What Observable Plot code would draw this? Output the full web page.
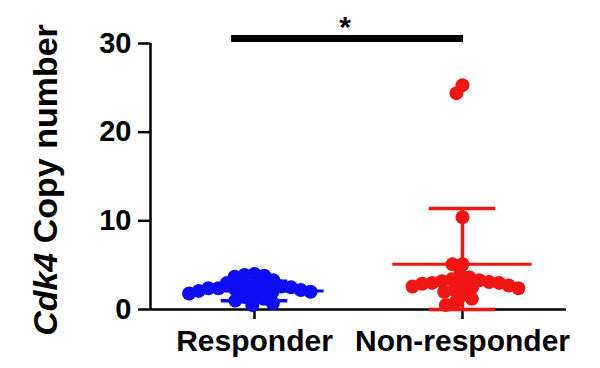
<!DOCTYPE html>
<html><head><meta charset="utf-8">
<script src="https://cdn.jsdelivr.net/npm/d3@7"></script>
<script src="https://cdn.jsdelivr.net/npm/@observablehq/plot@0.6"></script>
<style>body{margin:0;background:#fff}</style>
</head><body><div id="chart"></div>
<script>
const groups = ["Responder", "Non-responder"];
const responder = [4.0, 3.9, 3.8, 3.7, 3.3, 3.0, 2.8, 2.7, 2.6, 2.6, 2.5, 2.4, 2.4, 2.3, 2.2, 2.1, 2.0, 1.9, 1.8, 1.6, 1.4, 1.2, 1.0, 0.7, 0.5];
const nonResponder = [25.3, 24.4, 10.4, 5.1, 5.1, 4.0, 3.6, 3.4, 3.3, 3.2, 3.1, 3.0, 3.0, 2.9, 2.8, 2.7, 2.6, 2.5, 2.4, 2.2, 2.0, 1.6, 1.2, 0.8, 0.5];
const means = [2.1, 5.1];
const sds = [1.1, 6.3];
const colors = ["#0c0cf0", "#f01616"];
const yTicks = [0, 10, 20, 30];
const sigLabel = "*";
const sigY = 30.55;

const points = [
  ...responder.map(v => ({group: groups[0], value: v})),
  ...nonResponder.map(v => ({group: groups[1], value: v}))
];
const stats = groups.map((g, i) => ({group: g, mean: means[i], lo: Math.max(0, means[i] - sds[i]), hi: means[i] + sds[i]}));
const sigBar = [
  {group: groups[0], x1: -0.22, x2: 1},
  {group: groups[1], x1: -1, x2: 0.01}
];

const plot = Plot.plot({
  width: 600, height: 368,
  marginLeft: 150, marginRight: 34, marginTop: 43, marginBottom: 59,
  fx: {domain: groups, padding: 0, label: null, axis: null},
  x: {domain: [-1, 1], axis: null},
  y: {domain: [0, 30], axis: null},
  color: {domain: groups, range: colors},
  style: {fontFamily: "'Liberation Sans', Arial, sans-serif", fontWeight: "bold", color: "black", background: "white", fontSize: "29px"},
  marks: [
    Plot.ruleY([0], {stroke: "black", strokeWidth: 2.5}),
    Plot.ruleX([groups[0]], {fx: d => d, x: -1, y1: 0, y2: 30, stroke: "black", strokeWidth: 2.5}),
    Plot.axisY({ticks: yTicks, tickSize: 12, tickPadding: 7, fontSize: 29, label: null, strokeWidth: 2.5}),
    Plot.axisFx({anchor: "bottom", tickSize: 10, tickPadding: 10, fontSize: 30, label: null, strokeWidth: 2.5}),
    Plot.ruleX(stats, {fx: "group", x: 0, y1: "lo", y2: "hi", stroke: "group", strokeWidth: 3.5}),
    Plot.ruleY(stats, {fx: "group", y: "hi", x1: -0.32, x2: 0.32, stroke: "group", strokeWidth: 3.5}),
    Plot.ruleY(stats, {fx: "group", y: "lo", x1: -0.32, x2: 0.32, stroke: "group", strokeWidth: 3.5}),
    Plot.ruleY(stats, {fx: "group", y: "mean", x1: -0.67, x2: 0.67, stroke: "group", strokeWidth: 3}),
    Plot.dot(points, Plot.dodgeX({anchor: "middle", padding: -4}, {fx: "group", y: "value", r: 7, fill: "group"})),
    Plot.ruleY(sigBar, {fx: "group", y: () => sigY, x1: "x1", x2: "x2", stroke: "black", strokeWidth: 7}),
    Plot.text([sigLabel], {fx: () => groups[0], x: 0.87, y: 31.8, text: d => d, fontSize: 30, fontWeight: "bold", fill: "black"})
  ]
});
document.getElementById("chart").appendChild(plot);

const svg = d3.select(plot.tagName.toLowerCase() === "svg" ? plot : plot.querySelector("svg"));
const label = svg.append("text")
  .attr("transform", "translate(57,180) rotate(-90)")
  .attr("text-anchor", "middle")
  .attr("font-size", 34)
  .attr("font-weight", "bold")
  .attr("font-family", "'Liberation Sans', Arial, sans-serif")
  .attr("fill", "black");
label.append("tspan").attr("font-style", "italic").text("Cdk4");
label.append("tspan").text(" Copy number");
</script>
</body></html>
